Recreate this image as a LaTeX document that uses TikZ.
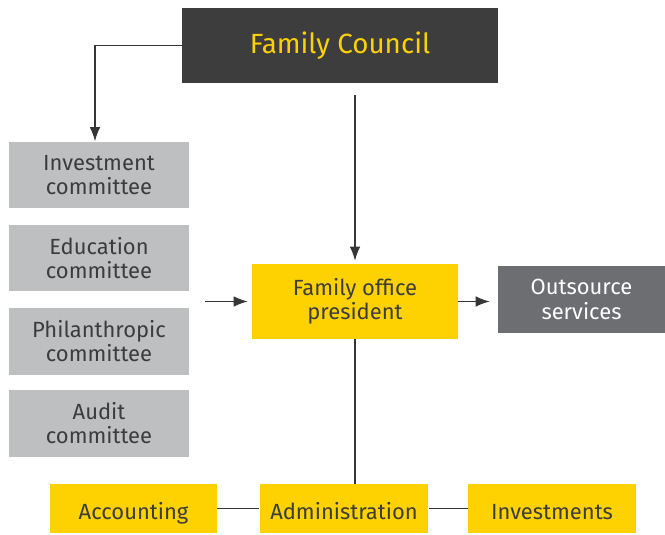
\documentclass[tikz,border=0pt]{standalone}
\usepackage{fontspec}
\setmainfont{Fira Sans}
\usepackage{tikz}
\usetikzlibrary{arrows.meta}

\definecolor{eyyellow}{HTML}{FDD200}
\definecolor{eydark}{HTML}{3D3D3D}
\definecolor{eygray}{HTML}{BEBFC1}
\definecolor{eymid}{HTML}{6D6E71}
\definecolor{eytext}{HTML}{3C3C3C}

\begin{document}
\begin{tikzpicture}[x=0.02cm, y=-0.02cm, >={Latex[length=2.8mm,width=2.1mm]},
    box/.style={inner sep=0pt, align=center, font=\fontsize{12.5}{13.8}\selectfont},
    committee/.style={box, fill=eygray, text=eytext, minimum width=3.6cm, minimum height=1.34cm},
    office/.style={box, fill=eyyellow, text=eytext},
    unit/.style={office, minimum height=0.98cm, text height=2.6ex, text depth=0.2ex},
    link/.style={line width=0.6pt, draw=eytext!90!black}]
            \useasboundingbox (0,0) rectangle (665,534);

            % Council on top
            \node[box, fill=eydark, text=eyyellow, minimum width=6.32cm, minimum height=1.5cm,
                  font=\fontsize{15.8}{18}\selectfont] (council) at (340,45.5) {Family Council};

            % Committees
            \node[committee] (comm-1) at (99,175) {Investment\\committee};
            \node[committee] (comm-2) at (99,258) {Education\\committee};
            \node[committee] (comm-3) at (99,341) {Philanthropic\\committee};
            \node[committee] (comm-4) at (99,423) {Audit\\committee};

            % President and outsourcing
            \node[office, minimum width=4.12cm, minimum height=1.5cm] (president) at (355,301.5) {Family office\\president};
            \node[box, fill=eymid, text=white, minimum width=3.34cm, minimum height=1.34cm] (outsource) at (581.5,299.5) {Outsource\\services};

            % Bottom row
            \node[unit, minimum width=3.34cm] (accounting) at (133.5,508.5) {Accounting};
            \node[unit, minimum width=3.38cm] (admin) at (344,508.5) {Administration};
            \node[unit, minimum width=3.36cm] (investments) at (552,508.5) {Investments};

            % Loose line ends
            \coordinate (drop) at (355,95);
            \coordinate (feed) at (205,301.5);
            \coordinate (adminTop) at (355,484);

            % Connections
            \draw[link, ->] (council.west) -| ([xshift=-0.08cm]comm-1.north);
            \draw[link, ->] (drop) -- ([yshift=0.06cm]president.north);
            \draw[link, ->] (feed) -- ([xshift=-0.08cm]president.west);
            \draw[link, ->] (president.east) -- ([xshift=-0.16cm]president.east -| outsource.west);
            \draw[link] (president.south) -- (adminTop);
            \draw[link] (accounting.east) -- (admin.west);
            \draw[link] (admin.east) -- (investments.west);

        \end{tikzpicture}
\end{document}
